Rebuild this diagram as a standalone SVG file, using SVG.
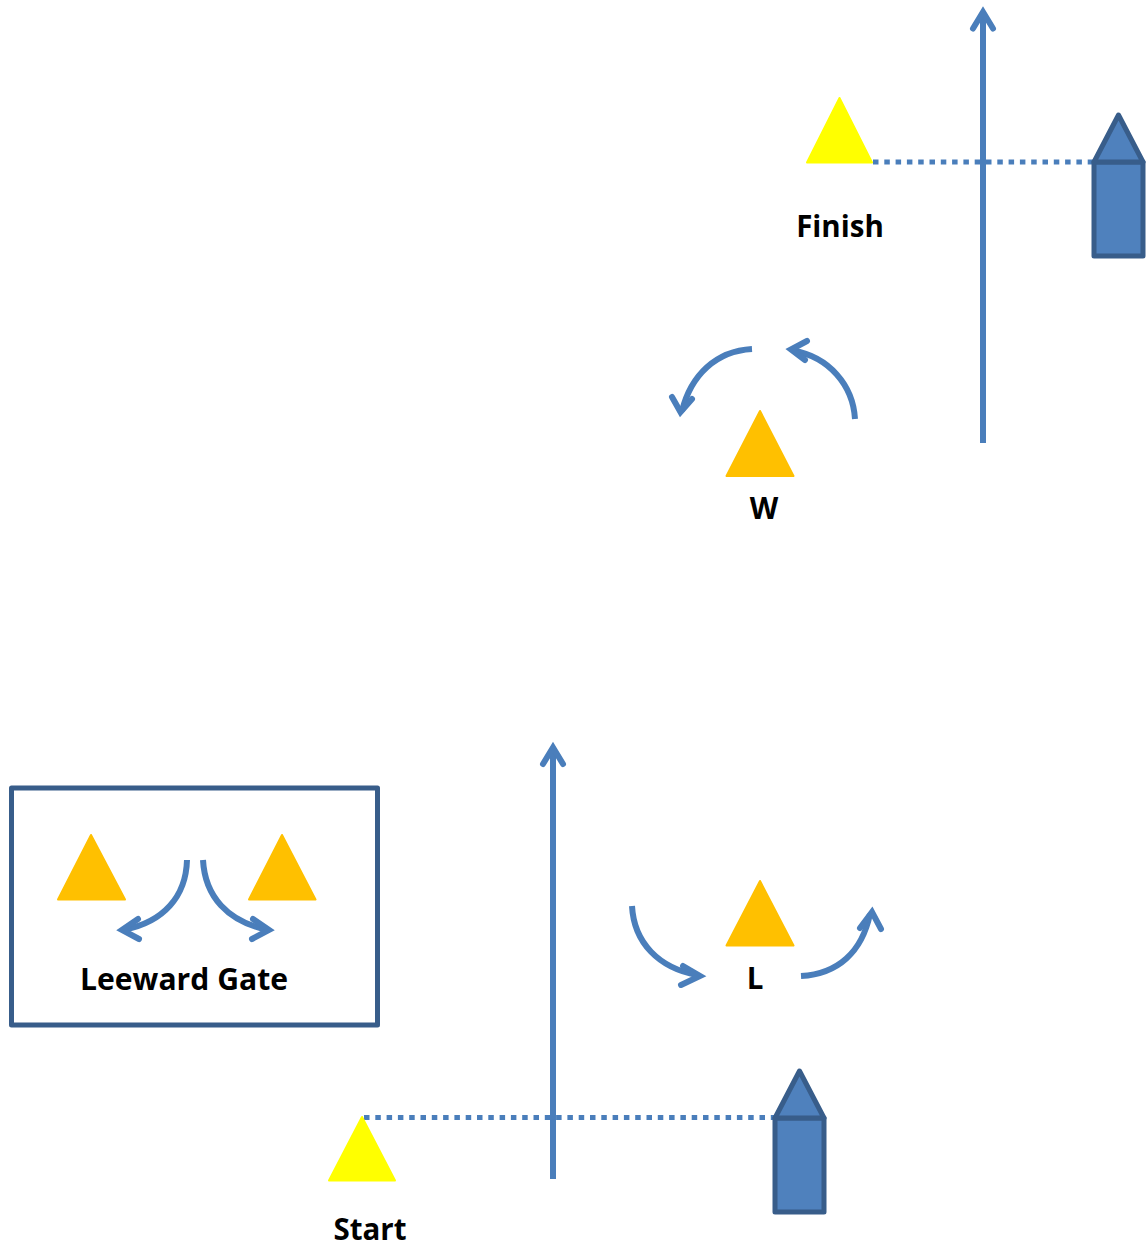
<svg xmlns="http://www.w3.org/2000/svg" width="1146" height="1249" viewBox="0 0 1146 1249">
<defs><style>
.mark{stroke-width:2;stroke-linejoin:round}
.gold{fill:#FFC000;stroke:#FFC000}
.yellow{fill:#FFFF00;stroke:#FFFF00}
.boat{fill:#4F81BD;stroke:#385D8A;stroke-width:5;stroke-linejoin:round}
.line{fill:none;stroke:#4A7EBB;stroke-width:6}
.head{fill:none;stroke:#4A7EBB;stroke-width:6;stroke-linecap:round;stroke-linejoin:miter}
.dots{fill:none;stroke:#4A7EBB;stroke-width:5;stroke-dasharray:5.500 5.800}
text{font-family:"Open Sans","Liberation Sans",sans-serif;font-weight:700;font-size:29.500px;fill:#000;text-anchor:middle}
</style></defs>
<rect width="1146" height="1249" fill="#fff"/>
<g id="connectors">
<path class="dots" d="M873 162H1094"/>
<path class="dots" d="M364 1117.500H775"/>
<path class="line" d="M983 443V14"/><path class="head" d="M973 28.500L983 12L993 28.500"/>
<path class="line" d="M553 1179V750"/><path class="head" d="M543 764L553 747.500L563 764"/>
<path class="line" d="M752 349C716 351 691 375 682 411"/><path class="head" d="M672 397L680.500 412L692 399"/>
<path class="line" d="M855 419C853 385 829 357 793 350.500"/><path class="head" d="M807 341L791 349.500L805 360"/>
<path class="line" d="M187 860C186 897 163 922 125 929.500"/><path class="head" d="M138 919L122 930L139 939"/>
<path class="line" d="M203 860C205 897 228 921 266 929.500"/><path class="head" d="M253 919L269 930L252 939"/>
<path class="line" d="M632 906C634 943 659 968 697 975"/><path class="head" d="M683 966L700 976L681 985"/>
<path class="line" d="M801 976C838 974 862 952 870 914"/><path class="head" d="M860 928L872 912L881 929"/>
</g>
<g id="finish-mark"><path class="mark yellow" d="M839.500 98L872 162.500H807Z"/></g>
<g id="finish-boat"><rect class="boat" x="1094" y="162" width="49" height="94"/><path class="boat" d="M1118.500 115L1143 162H1094Z"/></g>
<g id="finish-label"><text x="840" y="237">Finish</text></g>
<g id="windward-mark"><path class="mark gold" d="M760 411L793.500 476H726.500Z"/></g>
<g id="windward-label"><text x="764" y="519">W</text></g>
<g id="leeward-gate">
<rect x="11.500" y="788" width="366" height="237" fill="none" stroke="#385D8A" stroke-width="5" stroke-linejoin="round"/>
<text x="184" y="990" textLength="208" lengthAdjust="spacingAndGlyphs">Leeward Gate</text>
</g>
<g id="gate-mark-left"><path class="mark gold" d="M91 835L125 899.500H58Z"/></g>
<g id="gate-mark-right"><path class="mark gold" d="M282 835L315.500 899.500H249Z"/></g>
<g id="leeward-mark"><path class="mark gold" d="M760 881L793.500 945.500H726.500Z"/></g>
<g id="leeward-label"><text x="755" y="989">L</text></g>
<g id="start-mark"><path class="mark yellow" d="M362 1117L395 1180.500H329Z"/></g>
<g id="start-boat"><rect class="boat" x="775" y="1118" width="49" height="94"/><path class="boat" d="M799.500 1071L824 1118H775Z"/></g>
<g id="start-label"><text x="370" y="1240">Start</text></g>
</svg>
